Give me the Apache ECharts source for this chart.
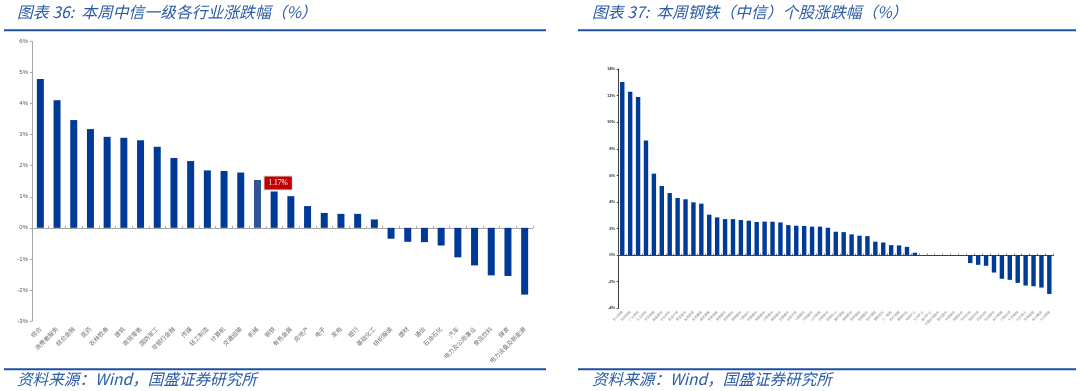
<!DOCTYPE html>
<html><head><meta charset="utf-8">
<script src="https://cdn.jsdelivr.net/npm/echarts@6/dist/echarts.min.js"></script>
<style>html,body{margin:0;padding:0;background:#fff}#c{width:1080px;height:391px}</style>
</head><body><div id="c"></div>
<script>
// ---- Left chart: 中信一级行业 ----
const indCategories = ['综合','消费者服务','综合金融','医药','农林牧渔','建筑','商贸零售','国防军工','非银行金融','传媒','轻工制造','计算机','交通运输','机械','钢铁','有色金属','房地产','电子','家电','银行','基础化工','纺织服装','建材','通信','石油石化','汽车','电力及公用事业','食品饮料','煤炭','电力设备及新能源'];
const indValues = [4.79,4.11,3.47,3.18,2.93,2.90,2.82,2.61,2.25,2.15,1.85,1.83,1.78,1.54,1.17,1.02,0.70,0.48,0.45,0.45,0.27,-0.35,-0.45,-0.46,-0.57,-0.95,-1.21,-1.53,-1.55,-2.15];
const indTicks = [-3,-2,-1,0,1,2,3,4,5,6];

// ---- Right chart: 钢铁（中信）个股 ----
const stockNames = ['方大特钢','抚顺特钢','广大特材','久立特材','中信特钢','甬金股份','永兴材料','武进不锈','常宝股份','金洲管道','友发集团','盛德鑫泰','华菱钢铁','宝钢股份','首钢股份','南钢股份','三钢闽光','新钢股份','柳钢股份','沙钢股份','鞍钢股份','包钢股份','太钢不锈','马钢股份','河钢股份','山东钢铁','本钢板材','韶钢松山','重庆钢铁','凌钢股份','安阳钢铁','杭钢股份','新兴铸管','酒钢宏兴','八一钢铁','西宁特钢','攀钢钒钛','海南矿业','大中矿业','金岭矿业','河钢资源股份','银龙股份','中南股份','翔楼新材','华达新材','恒星科技','西部材料','宏达股份','闽光钢铁','沙钢资源','宁波钢铁','北方稀土','天津钢管','株冶集团','大冶特钢'];
const stockValues = [13.02,12.29,11.89,8.62,6.13,5.20,4.67,4.30,4.20,3.97,3.87,3.04,2.84,2.71,2.71,2.64,2.59,2.49,2.52,2.51,2.46,2.26,2.21,2.19,2.14,2.14,2.06,1.76,1.73,1.56,1.46,1.43,1.01,0.95,0.75,0.73,0.62,0.18,0,0,0,0,0,0,-0.60,-0.73,-0.80,-1.31,-1.78,-1.86,-2.09,-2.29,-2.34,-2.44,-2.92];
const stockTicks = [-4,-2,0,2,4,6,8,10,12,14];

const BLUE = '#003A97';
const LINE_BLUE = '#1E50A2';
const TXT_BLUE = '#2A5CA8';

const chart = echarts.init(document.getElementById('c'), null, {renderer:'canvas'});

const indData = indValues.map((v,i)=>{
  const d = {value:v};
  if (indCategories[i]==='机械') d.itemStyle = {color:'#2F5597'};
  if (indCategories[i]==='钢铁') d.label = {
    show:true, position:'top', distance:2, formatter:'1.17%',
    backgroundColor:'#C00000', color:'#fff', fontSize:7.5,
    fontFamily:'Liberation Serif, DejaVu Serif, serif', padding:[3,4,2,4],
    borderColor:'#e0e0e0', borderWidth:1, offset:[4,0]
  };
  return d;
});

const titleStyle = {fontSize:15.8, fontStyle:'italic', fill:TXT_BLUE, fontFamily:'Noto Sans CJK SC, sans-serif'};
const footStyle = Object.assign({}, titleStyle, {fontSize:15.6});

chart.setOption({
  animation:false,
  backgroundColor:'#fff',
  graphic:[
    {type:'text', left:17, top:4, style:Object.assign({text:'图表 36:  本周中信一级各行业涨跌幅（%）'}, titleStyle)},
    {type:'text', left:592, top:4, style:Object.assign({text:'图表 37:  本周钢铁（中信）个股涨跌幅（%）'}, titleStyle)},
    {type:'rect', shape:{x:4,y:29.3,width:542,height:2}, style:{fill:LINE_BLUE}},
    {type:'rect', shape:{x:578,y:29.3,width:498,height:2}, style:{fill:LINE_BLUE}},
    {type:'rect', shape:{x:4,y:368.3,width:542,height:2}, style:{fill:LINE_BLUE}},
    {type:'rect', shape:{x:578,y:368.3,width:498,height:2}, style:{fill:LINE_BLUE}},
    {type:'text', left:17, top:371, style:Object.assign({text:'资料来源：Wind，国盛证券研究所'}, footStyle)},
    {type:'text', left:592, top:371, style:Object.assign({text:'资料来源：Wind，国盛证券研究所'}, footStyle)}
  ],
  grid:[
    {left:32, top:41.5, width:501, height:279.5, containLabel:false},
    {left:618.3, top:69, width:435, height:239.3, containLabel:false}
  ],
  xAxis:[
    {type:'category', gridIndex:0, data:indCategories,
     axisLine:{show:false, onZero:false}, axisTick:{show:false},
     axisLabel:{interval:0, rotate:45, fontSize:6, color:'#6f6f6f', margin:7, fontFamily:'Noto Sans CJK SC'}},
    {type:'category', gridIndex:0, data:indCategories,
     axisLine:{show:true, onZero:true, lineStyle:{color:'#A6A6A6', width:1}},
     axisTick:{show:true, length:2, interval:0, lineStyle:{color:'#A6A6A6'}},
     axisLabel:{show:false}},
    {type:'category', gridIndex:1, data:stockNames,
     axisLine:{show:false, onZero:false}, axisTick:{show:false},
     axisLabel:{interval:0, rotate:45, fontSize:3.2, color:'#8a8a8a', margin:3, fontFamily:'Noto Sans CJK SC'}},
    {type:'category', gridIndex:1, data:stockNames,
     axisLine:{show:true, onZero:true, lineStyle:{color:'#404040', width:1}},
     axisTick:{show:true, length:1.5, interval:0, lineStyle:{color:'#808080'}},
     axisLabel:{show:false}}
  ],
  yAxis:[
    {type:'value', gridIndex:0, min:indTicks[0], max:indTicks[indTicks.length-1], interval:1,
     axisLine:{show:true, lineStyle:{color:'#A6A6A6'}},
     axisTick:{show:true, length:2, lineStyle:{color:'#A6A6A6'}},
     splitLine:{show:false},
     axisLabel:{formatter:'{value}%', fontSize:6, color:'#595959', margin:4, fontFamily:'Liberation Sans'}},
    {type:'value', gridIndex:1, min:stockTicks[0], max:stockTicks[stockTicks.length-1], interval:2,
     axisLine:{show:true, lineStyle:{color:'#404040'}},
     axisTick:{show:true, length:1.5, lineStyle:{color:'#404040'}},
     splitLine:{show:false},
     axisLabel:{formatter:'{value}%', fontSize:4.2, color:'#333', fontWeight:'bold', margin:3, fontFamily:'Liberation Sans'}}
  ],
  series:[
    {type:'bar', xAxisIndex:0, yAxisIndex:0, data:indData, barWidth:7,
     itemStyle:{color:BLUE}},
    {type:'bar', xAxisIndex:2, yAxisIndex:1, data:stockValues, barWidth:4.4,
     itemStyle:{color:BLUE}}
  ]
});
</script></body></html>
